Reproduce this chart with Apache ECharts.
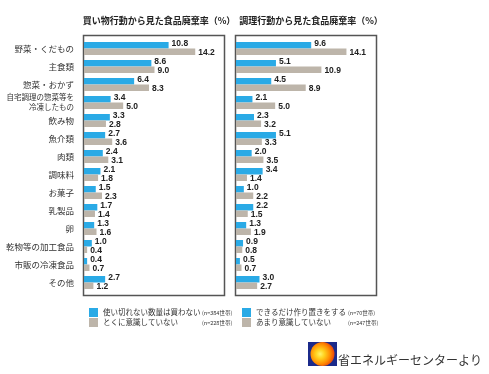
<!DOCTYPE html>
<html><head><meta charset="utf-8">
<script src="https://cdn.jsdelivr.net/npm/echarts@6/dist/echarts.min.js"></script>
<style>html,body{margin:0;padding:0;background:#fff}#c{width:489px;height:374px}</style>
</head><body><div id="c"></div>
<script>
const categories = ['野菜・くだもの','主食類','惣菜・おかず','自宅調理の惣菜等を\n冷凍したもの','飲み物','魚介類','肉類','調味料','お菓子','乳製品','卵','乾物等の加工食品','市販の冷凍食品','その他'];
const cats = categories.slice(0,3).concat(categories.slice(3));
const buyNotExcess = [10.8,8.6,6.4,3.4,3.3,2.7,2.4,2.1,1.5,1.7,1.3,1.0,0.4,2.7];
const buyNotAware  = [14.2,9.0,8.3,5.0,2.8,3.6,3.1,1.8,2.3,1.4,1.6,0.4,0.7,1.2];
const cookPrepare  = [9.6,5.1,4.5,2.1,2.3,5.1,2.0,3.4,1.0,2.2,1.3,0.9,0.5,3.0];
const cookNotAware = [14.1,10.9,8.9,5.0,3.2,3.3,3.5,1.4,2.2,1.5,1.9,0.8,0.7,2.7];
const seriesNames = ['使い切れない数量は買わない','とくに意識していない','できるだけ作り置きをする','あまり意識していない'];
const sampleSizes = ['(n=384世帯)','(n=228世帯)','(n=70世帯)','(n=247世帯)'];
const titles = ['買い物行動から見た食品廃棄率（%）','調理行動から見た食品廃棄率（%）'];

const BLUE = '#2aaae6', GRAY = '#bdb5aa';
const FONT = '"Noto Sans CJK JP", "Liberation Sans", sans-serif';
const chart = echarts.init(document.getElementById('c'), null, {renderer:'canvas'});

function valLabel(dy){
  return {show:true, position:'right', distance:3, offset:[0,dy],
    formatter: p => p.value.toFixed(1),
    fontFamily:'"Liberation Sans", Arial, sans-serif', fontWeight:'bold', fontSize:8.5, color:'#222'};
}
function bar(name, data, idx, color, dy){
  return {type:'bar', name, data, xAxisIndex:idx, yAxisIndex:idx, barWidth:6.5, barGap:'0%',
    itemStyle:{color}, label:valLabel(dy), silent:true, animation:false};
}
const nameToN = {};
seriesNames.forEach((n,i)=>nameToN[n]=sampleSizes[i]);
function legend(i, left, data, w){
  return {orient:'vertical', left, top:303, itemWidth:9, itemHeight:9, itemGap:1, itemTextGap:5,
    icon:'rect', data, selectedMode:false,
    formatter: n => '{a|'+n+'}{b|'+nameToN[n]+'}',
    textStyle:{fontFamily:FONT, fontSize:7.5, color:'#333',
      rich:{a:{width:w, fontFamily:FONT, fontSize:7.5, color:'#333'}, b:{fontFamily:FONT, fontSize:5.5, color:'#333'}}}};
}

chart.setOption({
  backgroundColor:'#fff',
  animation:false,
  title:[
    {text:titles[0], left:154, top:11, textAlign:'center', textStyle:{fontFamily:FONT, fontSize:9, fontWeight:'bold', color:'#222'}},
    {text:titles[1], left:306, top:11, textAlign:'center', textStyle:{fontFamily:FONT, fontSize:9, fontWeight:'bold', color:'#222'}}
  ],
  legend:[legend(0, 84, [seriesNames[0],seriesNames[1]], 99), legend(1, 237, [seriesNames[2],seriesNames[3]], 92)],
  grid:[
    {left:84, top:39.5, width:141, height:252},
    {left:236, top:39.5, width:141, height:252}
  ],
  xAxis:[
    {type:'value', gridIndex:0, min:0, max:18, show:false},
    {type:'value', gridIndex:1, min:0, max:18, show:false}
  ],
  yAxis:[
    {type:'category', gridIndex:0, data:cats, inverse:true, axisLine:{show:false}, axisTick:{show:false},
      axisLabel:{margin:10, fontFamily:FONT, fontSize:8.5, color:'#333',
        formatter: v => v.indexOf('\n')>=0 ? '{s|'+v+'}' : v,
        rich:{s:{fontFamily:FONT, fontSize:7.5, lineHeight:10, color:'#333', align:'right'}}}},
    {type:'category', gridIndex:1, data:cats, inverse:true, axisLine:{show:false}, axisTick:{show:false}, axisLabel:{show:false}}
  ],
  series:[
    bar(seriesNames[0], buyNotExcess, 0, BLUE, -2),
    bar(seriesNames[1], buyNotAware, 0, GRAY, 1),
    bar(seriesNames[2], cookPrepare, 1, BLUE, -2),
    bar(seriesNames[3], cookNotAware, 1, GRAY, 1)
  ],
  graphic:[
    {type:'rect', shape:{x:83.5, y:35.5, width:141, height:260}, style:{fill:'none', stroke:'#555', lineWidth:1.5}, z:-1},
    {type:'rect', shape:{x:235.5, y:35.5, width:141, height:260}, style:{fill:'none', stroke:'#555', lineWidth:1.5}, z:-1},
    {type:'rect', shape:{x:308, y:342, width:29, height:24}, style:{fill:'#1b2a8a'}},
    {type:'circle', shape:{cx:322.5, cy:354, r:12}, style:{fill:{type:'radial', x:0.4, y:0.5, r:0.6,
      colorStops:[{offset:0, color:'#fff36b'},{offset:0.3, color:'#ffd21f'},{offset:0.7, color:'#ff8a00'},{offset:1, color:'#e8420a'}]}}},
    {type:'text', x:338, y:360, style:{text:'省エネルギーセンターより', fontFamily:FONT, fontSize:12, fill:'#333', verticalAlign:'middle'}}
  ]
});
</script></body></html>
